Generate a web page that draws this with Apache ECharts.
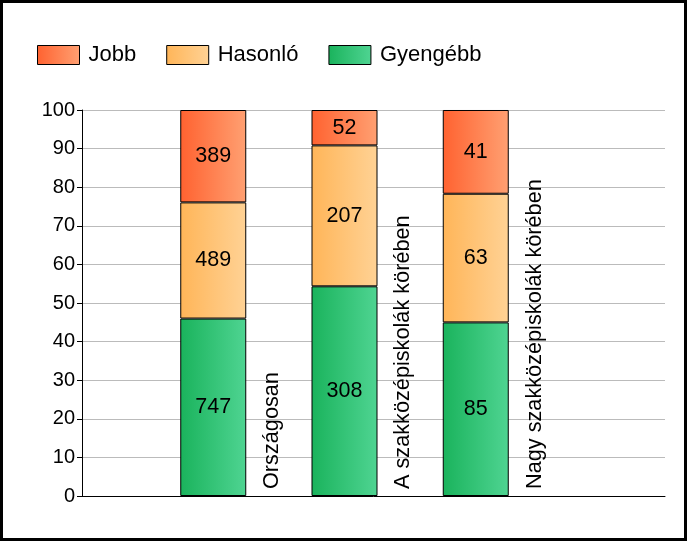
<!DOCTYPE html>
<html>
<head>
<meta charset="utf-8">
<script src="https://cdn.jsdelivr.net/npm/echarts@6/dist/echarts.min.js"></script>
<style>
  html, body { margin: 0; padding: 0; background: #fff; }
  #chart { width: 687px; height: 541px; box-sizing: border-box; border: 3px solid #000; }
</style>
</head>
<body>
<div id="chart"></div>
<script>
// categories and counts
const categories = ['Országosan', 'A szakközépiskolák körében', 'Nagy szakközépiskolák körében'];
const gyengebb = [747, 308, 85];
const hasonlo = [489, 207, 63];
const jobb = [389, 52, 41];
const yTicks = [0, 10, 20, 30, 40, 50, 60, 70, 80, 90, 100];

const font = 'Liberation Sans, Arial, sans-serif';

function grad(a, b) {
  return new echarts.graphic.LinearGradient(0, 0, 1, 0, [
    { offset: 0, color: a },
    { offset: 1, color: b }
  ]);
}

// bars are drawn as percentage of the group total, label shows the count
function pctData(arr) {
  return arr.map((v, i) => {
    const total = gyengebb[i] + hasonlo[i] + jobb[i];
    return { value: v / total * 100, count: v };
  });
}

function barSeries(name, arr, c1, c2) {
  return {
    name: name,
    type: 'bar',
    stack: 'all',
    xAxisIndex: 1,
    yAxisIndex: 1,
    barWidth: 66,
    data: [null].concat(pctData(arr)),
    itemStyle: { color: grad(c1, c2), borderColor: '#000', borderWidth: 1 },
    label: {
      show: true,
      position: 'inside',
      formatter: p => p.data.count,
      color: '#000',
      fontFamily: font,
      fontSize: 21.5
    },
    emphasis: { disabled: true }
  };
}

const chart = echarts.init(document.getElementById('chart'));

// grid 0 holds the visible axes and grid lines, grid 1 the bars (one step per group)
const plotTop = 107, plotBottom = 42, plotLeft = 79, step = 131.25;

chart.setOption({
  animation: false,
  legend: {
    data: ['Jobb', 'Hasonló', 'Gyengébb'],
    left: 29,
    top: 36,
    icon: 'rect',
    itemWidth: 42,
    itemHeight: 19,
    itemGap: 30,
    itemStyle: { borderColor: '#000', borderWidth: 1 },
    textStyle: { fontFamily: font, fontSize: 22, color: '#000', padding: [0, 0, 0, 4] }
  },
  grid: [
    { left: plotLeft, right: 19, top: plotTop, bottom: plotBottom },
    { left: plotLeft, width: step * 3, top: plotTop, bottom: plotBottom }
  ],
  xAxis: [
    {
      gridIndex: 0,
      type: 'value',
      min: 0,
      max: 1,
      axisLine: { show: true, lineStyle: { color: '#000' } },
      axisTick: { show: false },
      axisLabel: { show: false },
      splitLine: { show: false }
    },
    {
      gridIndex: 1,
      type: 'category',
      data: [''].concat(categories),
      boundaryGap: false,
      axisLine: { show: false },
      axisTick: { show: false },
      axisLabel: { show: false },
      splitLine: { show: false }
    }
  ],
  yAxis: [
    {
      gridIndex: 0,
      type: 'value',
      min: yTicks[0],
      max: yTicks[yTicks.length - 1],
      interval: 10,
      axisLine: { show: true, lineStyle: { color: '#000' } },
      axisTick: { show: true, length: 5, lineStyle: { color: '#000' } },
      axisLabel: { color: '#000', fontFamily: font, fontSize: 20, margin: 7 },
      splitLine: { lineStyle: { color: '#bbb' } }
    },
    {
      gridIndex: 1,
      type: 'value',
      min: yTicks[0],
      max: yTicks[yTicks.length - 1],
      show: false
    }
  ],
  series: [
    barSeries('Gyengébb', gyengebb, '#1ab35c', '#4fd492'),
    barSeries('Hasonló', hasonlo, '#ffb558', '#ffd295'),
    barSeries('Jobb', jobb, '#ff6230', '#ffa072'),
    {
      name: 'labels',
      type: 'scatter',
      xAxisIndex: 1,
      yAxisIndex: 1,
      symbolSize: 1,
      itemStyle: { color: 'transparent', opacity: 1 },
      data: categories.map(c => ({ value: [c, 0], name: c })),
      label: {
        show: true,
        position: 'inside',
        rotate: 90,
        align: 'left',
        verticalAlign: 'middle',
        offset: [7, 59],
        formatter: p => p.name,
        color: '#000',
        opacity: 1,
        fontFamily: font,
        fontSize: 21.7
      },
      emphasis: { disabled: true },
      silent: true
    }
  ]
});
</script>
</body>
</html>
